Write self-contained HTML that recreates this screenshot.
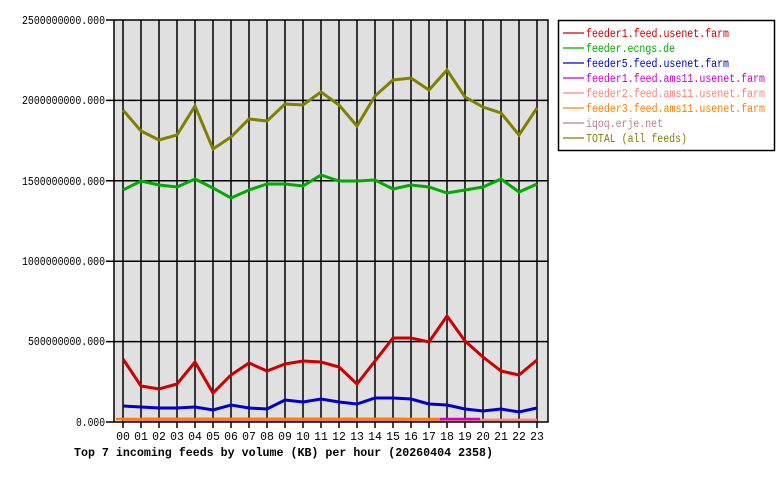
<!DOCTYPE html>
<html><head><style>
body{margin:0;background:#fff;}
svg{display:block;font-family:"Liberation Mono","DejaVu Sans Mono",monospace;}
</style></head><body>
<svg width="780" height="480" xmlns="http://www.w3.org/2000/svg">
<rect x="114" y="20" width="434" height="402" fill="#e0e0e0"/>
<g stroke="#000" stroke-width="1.5">
<line x1="123" y1="20" x2="123" y2="422"/><line x1="141" y1="20" x2="141" y2="422"/><line x1="159" y1="20" x2="159" y2="422"/><line x1="177" y1="20" x2="177" y2="422"/><line x1="195" y1="20" x2="195" y2="422"/><line x1="213" y1="20" x2="213" y2="422"/><line x1="231" y1="20" x2="231" y2="422"/><line x1="249" y1="20" x2="249" y2="422"/><line x1="267" y1="20" x2="267" y2="422"/><line x1="285" y1="20" x2="285" y2="422"/><line x1="303" y1="20" x2="303" y2="422"/><line x1="321" y1="20" x2="321" y2="422"/><line x1="339" y1="20" x2="339" y2="422"/><line x1="357" y1="20" x2="357" y2="422"/><line x1="375" y1="20" x2="375" y2="422"/><line x1="393" y1="20" x2="393" y2="422"/><line x1="411" y1="20" x2="411" y2="422"/><line x1="429" y1="20" x2="429" y2="422"/><line x1="447" y1="20" x2="447" y2="422"/><line x1="465" y1="20" x2="465" y2="422"/><line x1="483" y1="20" x2="483" y2="422"/><line x1="501" y1="20" x2="501" y2="422"/><line x1="519" y1="20" x2="519" y2="422"/><line x1="537" y1="20" x2="537" y2="422"/>
<line x1="106" y1="100.4" x2="548" y2="100.4"/><line x1="106" y1="180.8" x2="548" y2="180.8"/><line x1="106" y1="261.2" x2="548" y2="261.2"/><line x1="106" y1="341.6" x2="548" y2="341.6"/><line x1="106" y1="20" x2="114" y2="20"/><line x1="106" y1="422" x2="114" y2="422"/>
</g>
<g stroke="#000" stroke-width="1.5">
<path d="M123 422v6M141 422v6M159 422v6M177 422v6M195 422v6M213 422v6M231 422v6M249 422v6M267 422v6M285 422v6M303 422v6M321 422v6M339 422v6M357 422v6M375 422v6M393 422v6M411 422v6M429 422v6M447 422v6M465 422v6M483 422v6M501 422v6M519 422v6M537 422v6"/>
</g>
<g fill="none" stroke-width="2.5">
<polyline stroke="#c08080" points="123,420 537,420"/>
<polyline stroke="#ff8080" points="123,420 537,420"/>
<polyline stroke="#cc00cc" points="141,419 225,419 300,419 405,419"/>
<polyline stroke="#ff8000" points="116,419 130,419 405,419 440,419"/>
<polyline stroke="#cc00cc" points="440,419 480,419"/>
<polyline stroke="#0000cc" stroke-width="3" points="123,406 141,407 159,408 177,408 195,407 213,410 231,405 249,408 267,409 285,400 303,402 321,399 339,402 357,404 375,398 393,398 411,399 429,404 447,405 465,409 483,411 501,409 519,412 537,408"/>
<polyline stroke="#cc0000" stroke-width="3" points="123,359 141,386 159,389 177,384 195,362 213,393 231,375 249,363 267,371 285,364 303,361 321,362 339,367 357,384 375,361 393,338 411,338 429,342 447,316 465,341 483,357 501,371 519,375 537,360"/>
<polyline stroke="#00aa00" stroke-width="3" points="123,190 141,181 159,185 177,187 195,179 213,188 231,198 249,190 267,184 285,184 303,186 321,175 339,181 357,181 375,180 393,189 411,185 429,187 447,193 465,190 483,187 501,179 519,192 537,184"/>
<polyline stroke="#808000" stroke-width="3" points="123,110 141,131 159,140 177,135 195,106 213,149 231,137 249,119 267,121 285,104 303,105 321,92 339,105 357,126 375,96 393,80 411,78 429,90 447,70 465,97 483,107 501,113 519,135 537,108"/>
</g>
<rect x="114" y="20" width="434" height="402" fill="none" stroke="#000" stroke-width="1.5"/>
<g font-size="11.5" fill="#000">
<text x="22" y="24" textLength="83" lengthAdjust="spacingAndGlyphs">2500000000.000</text><text x="22" y="104" textLength="83" lengthAdjust="spacingAndGlyphs">2000000000.000</text><text x="22" y="185" textLength="83" lengthAdjust="spacingAndGlyphs">1500000000.000</text><text x="22" y="265" textLength="83" lengthAdjust="spacingAndGlyphs">1000000000.000</text><text x="28" y="345" textLength="77" lengthAdjust="spacingAndGlyphs">500000000.000</text><text x="76" y="426" textLength="29" lengthAdjust="spacingAndGlyphs">0.000</text>
</g>
<g font-size="11.5" text-anchor="middle">
<text x="123" y="440">00</text><text x="141" y="440">01</text><text x="159" y="440">02</text><text x="177" y="440">03</text><text x="195" y="440">04</text><text x="213" y="440">05</text><text x="231" y="440">06</text><text x="249" y="440">07</text><text x="267" y="440">08</text><text x="285" y="440">09</text><text x="303" y="440">10</text><text x="321" y="440">11</text><text x="339" y="440">12</text><text x="357" y="440">13</text><text x="375" y="440">14</text><text x="393" y="440">15</text><text x="411" y="440">16</text><text x="429" y="440">17</text><text x="447" y="440">18</text><text x="465" y="440">19</text><text x="483" y="440">20</text><text x="501" y="440">21</text><text x="519" y="440">22</text><text x="537" y="440">23</text>
</g>
<text x="74" y="456" font-size="12" font-weight="bold" textLength="419" lengthAdjust="spacingAndGlyphs">Top 7 incoming feeds by volume (KB) per hour (20260404 2358)</text>
<rect x="558.5" y="20.5" width="216" height="130" fill="#fff" stroke="#000" stroke-width="1.5"/>
<g font-size="11.5">
<g stroke-width="1.2"><line x1="563" y1="33" x2="584" y2="33" stroke="#cc0000"/><line x1="563" y1="48" x2="584" y2="48" stroke="#00aa00"/><line x1="563" y1="63" x2="584" y2="63" stroke="#0000cc"/><line x1="563" y1="78" x2="584" y2="78" stroke="#cc00cc"/><line x1="563" y1="93" x2="584" y2="93" stroke="#ff8080"/><line x1="563" y1="108" x2="584" y2="108" stroke="#ff8000"/><line x1="563" y1="123" x2="584" y2="123" stroke="#c08080"/><line x1="563" y1="138" x2="584" y2="138" stroke="#808000"/></g>
<text x="586" y="37" fill="#cc0000" textLength="143" lengthAdjust="spacingAndGlyphs">feeder1.feed.usenet.farm</text>
<text x="586" y="52" fill="#00aa00" textLength="89" lengthAdjust="spacingAndGlyphs">feeder.ecngs.de</text>
<text x="586" y="67" fill="#0000cc" textLength="143" lengthAdjust="spacingAndGlyphs">feeder5.feed.usenet.farm</text>
<text x="586" y="82" fill="#cc00cc" textLength="179" lengthAdjust="spacingAndGlyphs">feeder1.feed.ams11.usenet.farm</text>
<text x="586" y="97" fill="#ff8080" textLength="179" lengthAdjust="spacingAndGlyphs">feeder2.feed.ams11.usenet.farm</text>
<text x="586" y="112" fill="#ff8000" textLength="179" lengthAdjust="spacingAndGlyphs">feeder3.feed.ams11.usenet.farm</text>
<text x="586" y="127" fill="#c08080" textLength="77" lengthAdjust="spacingAndGlyphs">iqoq.erje.net</text>
<text x="586" y="142" fill="#808000" textLength="101" lengthAdjust="spacingAndGlyphs">TOTAL (all feeds)</text>
</g>
</svg>
</body></html>
